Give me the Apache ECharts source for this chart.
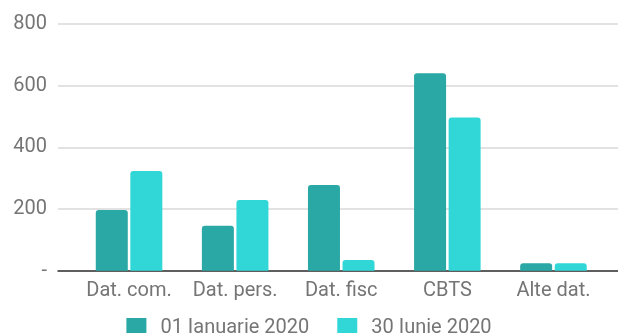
<!DOCTYPE html>
<html>
<head>
<meta charset="utf-8">
<script src="https://cdn.jsdelivr.net/npm/echarts@6/dist/echarts.min.js"></script>
<style>
  html, body { margin: 0; padding: 0; background: #ffffff; }
  #chart { width: 618px; height: 333px; }
</style>
</head>
<body>
<div id="chart"></div>
<script>
// Categories and values per reporting date
const categories = ['Dat. com.', 'Dat. pers.', 'Dat. fisc', 'CBTS', 'Alte dat.'];
const seriesNames = ['01 Ianuarie 2020', '30 Iunie 2020'];
const valuesJan = [197, 146, 278, 640, 24];
const valuesJun = [323, 229, 35, 497, 24];
const yTicks = { min: 0, max: 800, interval: 200 };

const darkTeal = '#29a8a5';
const lightCyan = '#31d7d7';
const labelColor = '#757575';
const font = 'Roboto, "Noto Sans", sans-serif';

const chart = echarts.init(document.getElementById('chart'), null, { renderer: 'canvas' });

chart.setOption({
  animation: false,
  backgroundColor: '#ffffff',
  color: [darkTeal, lightCyan],
  textStyle: { fontFamily: font },
  legend: {
    data: seriesNames,
    left: 'center',
    top: 313,
    itemWidth: 20,
    itemHeight: 20,
    itemGap: 28,
    icon: 'rect',
    textStyle: { fontSize: 20, color: labelColor, fontFamily: font, padding: [0, 0, 0, 9] }
  },
  grid: [
    // value scale with gridlines and baseline across the full width
    { left: 58, right: 0, top: 24, bottom: 62.3, containLabel: false },
    // category bands for the bars
    { left: 76, right: 11.5, top: 24, bottom: 62.3, containLabel: false }
  ],
  xAxis: [
    {
      gridIndex: 0,
      type: 'category',
      data: categories,
      axisLine: { show: true, lineStyle: { color: '#333333', width: 1.5 } },
      axisTick: { show: false },
      axisLabel: { show: false },
      splitLine: { show: false }
    },
    {
      gridIndex: 1,
      type: 'category',
      data: categories,
      axisLine: { show: false },
      axisTick: { show: false },
      axisLabel: { interval: 0, fontSize: 20, color: labelColor, fontFamily: font, margin: 10 }
    }
  ],
  yAxis: [
    {
      gridIndex: 0,
      type: 'value',
      min: yTicks.min,
      max: yTicks.max,
      interval: yTicks.interval,
      axisLine: { show: false },
      axisTick: { show: false },
      axisLabel: {
        fontSize: 20,
        color: labelColor,
        fontFamily: font,
        margin: 11,
        formatter: v => (v === 0 ? '-' : String(v))
      },
      splitLine: { lineStyle: { color: '#d9d9d9', width: 1.5 } }
    },
    {
      gridIndex: 1,
      type: 'value',
      min: yTicks.min,
      max: yTicks.max,
      interval: yTicks.interval,
      show: false,
      splitLine: { show: false }
    }
  ],
  series: [
    {
      name: seriesNames[0],
      type: 'bar',
      xAxisIndex: 1,
      yAxisIndex: 1,
      data: valuesJan,
      barWidth: 32,
      barGap: '8%',
      itemStyle: { color: darkTeal, borderRadius: [3, 3, 0, 0] }
    },
    {
      name: seriesNames[1],
      type: 'bar',
      xAxisIndex: 1,
      yAxisIndex: 1,
      data: valuesJun,
      barWidth: 32,
      barGap: '8%',
      itemStyle: { color: lightCyan, borderRadius: [3, 3, 0, 0] }
    }
  ]
});
</script>
</body>
</html>
